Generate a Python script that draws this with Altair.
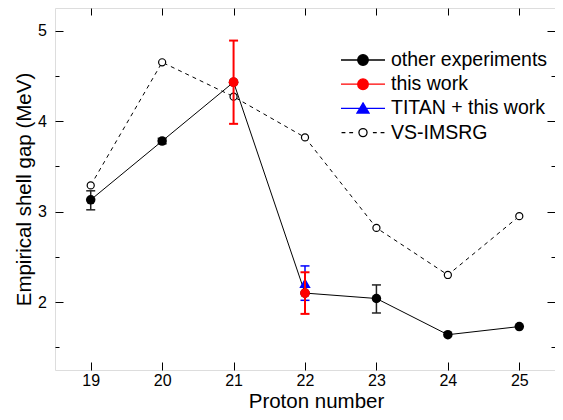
import altair as alt
import pandas as pd

# ---------------- data ----------------
proton = [19, 20, 21, 22, 23, 24, 25]
other_exp = [3.13, 3.78, 4.43, 2.10, 2.04, 1.64, 1.73]
vs_imsrg = [3.29, 4.65, 4.27, 3.82, 2.82, 2.30, 2.95]

other_err_x = [19, 20, 23]
other_err_lo = [3.02, 3.75, 1.88]
other_err_hi = [3.23, 3.81, 2.19]

this_x = [21, 22]
this_y = [4.43, 2.10]
this_lo = [3.97, 1.87]
this_hi = [4.89, 2.33]

titan_x = [22]
titan_y = [2.21]
titan_lo = [2.02]
titan_hi = [2.40]

series_names = ["other experiments", "this work", "TITAN + this work", "VS-IMSRG"]
series_strokes = ["black", "#ff0000", "#0000ff", "black"]
series_fills = ["black", "#ff0000", "#0000ff", "white"]

x_ticks = [19, 20, 21, 22, 23, 24, 25]
y_major = [2, 3, 4, 5]
y_minor = [1.5, 2.5, 3.5, 4.5]

x_title = "Proton number"
y_title = "Empirical shell gap (MeV)"

# ---------------- styles ----------------
FONT = "Liberation Sans"
RED = "#ff0000"
BLUE = "#0000ff"
ERR_BLACK = "#222222"
PLOT_W, PLOT_H = 500, 362

# legend symbols: line + marker drawn as one custom path
legend_paths = [
    "M-2,0H2M-0.48,0A0.48,0.48,0,1,0,0.48,0A0.48,0.48,0,1,0,-0.48,0Z",
    "M-2,0H2M-0.48,0A0.48,0.48,0,1,0,0.48,0A0.48,0.48,0,1,0,-0.48,0Z",
    "M-2,0H2M0,-0.5L0.55,0.42L-0.55,0.42Z",
    "M-1.95,0H-1.6M-1.25,0H-0.9M0.9,0H1.25M1.6,0H1.95"
    "M-0.37,0A0.37,0.37,0,1,0,0.37,0A0.37,0.37,0,1,0,-0.37,0Z",
]

xs = alt.Scale(domain=[18.5, 25.5], nice=False, zero=False)
ys = alt.Scale(domain=[1.25, 5.25], nice=False, zero=False)

common = dict(grid=False, domain=False, tickColor="black", tickWidth=1,
              labelFont=FONT, labelFontSize=16, labelColor="black",
              labelFlush=False, labelOverlap=False,
              titleFont=FONT, titleFontSize=20.5, titleFontWeight="normal",
              titleColor="black")

# axes carrying the labels and titles (no ticks)
x_labels = alt.Axis(orient="bottom", values=x_ticks, format="d", title=x_title,
                    ticks=False, tickSize=0, labelPadding=15, labelBaseline="alphabetic",
                    titleX=261, titleY=37.5, titleBaseline="alphabetic", titleAlign="center",
                    **common)
y_labels = alt.Axis(orient="left", values=y_major, format="d", title=y_title,
                    ticks=False, tickSize=0, labelPadding=8.5,
                    titleAngle=270, titleX=-25, titleY=PLOT_H / 2, titleBaseline="alphabetic",
                    titleAlign="center", **common)


# axes that only draw inward ticks (shifted inside with a negative offset)
def tick_axis(orient, values, size):
    return alt.Axis(orient=orient, values=values, labels=False, title=None,
                    tickSize=size, offset=-size, **common)


x_bottom_ticks = tick_axis("bottom", x_ticks, 8)
x_top_ticks = tick_axis("top", x_ticks, 7)
y_left_major = tick_axis("left", y_major, 8)
y_left_minor = tick_axis("left", y_minor, 4)
y_right_major = tick_axis("right", y_major, 8)
y_right_minor = tick_axis("right", y_minor, 4)

x_axes = [x_labels, x_bottom_ticks, x_top_ticks]
y_axes = [y_labels, y_left_major, y_left_minor, y_right_major, y_right_minor]

# ---------------- tables ----------------
vs_df = pd.DataFrame({"proton": proton, "gap": vs_imsrg})
other_df = pd.DataFrame({"proton": proton, "gap": other_exp})
legend_df = pd.DataFrame({"series": series_names})


def err_df(xv, lo, hi):
    return pd.DataFrame({"proton": xv, "lo": lo, "hi": hi})


def cap_df(xv, lo, hi):
    return pd.DataFrame({"proton": xv * 2, "gap": lo + hi})


def xq(axis=None):
    return alt.X("proton:Q", scale=xs, axis=axis)


def yq(field="gap", axis=None):
    return alt.Y(f"{field}:Q", scale=ys, axis=axis)


layer_specs = []

layer_specs.append(lambda ax, ay: alt.Chart(vs_df).mark_line(
    color="black", strokeWidth=1, strokeDash=[4, 4]).encode(x=xq(ax), y=yq(axis=ay)))
layer_specs.append(lambda ax, ay: alt.Chart(other_df).mark_line(
    color="black", strokeWidth=1).encode(x=xq(ax), y=yq(axis=ay)))
layer_specs.append(lambda ax, ay: alt.Chart(vs_df).mark_point(
    shape="circle", filled=False, fill="white", stroke="black", strokeWidth=1.2,
    size=50, opacity=1).encode(x=xq(ax), y=yq(axis=ay)))


def add_err(xv, lo, hi, color, width):
    layer_specs.append(lambda ax, ay: alt.Chart(err_df(xv, lo, hi)).mark_rule(
        color=color, strokeWidth=width).encode(x=xq(ax), y=yq("lo", ay), y2="hi:Q"))
    layer_specs.append(lambda ax, ay: alt.Chart(cap_df(xv, lo, hi)).mark_tick(
        orient="horizontal", size=9, thickness=width, color=color, opacity=1
    ).encode(x=xq(ax), y=yq(axis=ay)))


add_err(other_err_x, other_err_lo, other_err_hi, ERR_BLACK, 1.5)
layer_specs.append(lambda ax, ay: alt.Chart(other_df).mark_point(
    shape="circle", filled=True, color="black", size=90, opacity=1
).encode(x=xq(ax), y=yq(axis=ay)))
add_err(titan_x, titan_lo, titan_hi, BLUE, 1.5)
layer_specs.append(lambda ax, ay: alt.Chart(pd.DataFrame({"proton": titan_x, "gap": titan_y})).mark_point(
    shape="triangle-up", filled=True, color=BLUE, size=130, opacity=1
).encode(x=xq(ax), y=yq(axis=ay)))
add_err(this_x, this_lo, this_hi, RED, 2)
layer_specs.append(lambda ax, ay: alt.Chart(pd.DataFrame({"proton": this_x, "gap": this_y})).mark_point(
    shape="circle", filled=True, color=RED, size=95, opacity=1
).encode(x=xq(ax), y=yq(axis=ay)))

layers = []
for i, build in enumerate(layer_specs):
    ax = x_axes[i] if i < len(x_axes) else None
    ay = y_axes[i] if i < len(y_axes) else None
    layers.append(build(ax, ay))

leg = alt.Legend(
    orient="none", legendX=296, legendY=40, padding=0, title=None, direction="vertical",
    labelFont=FONT, labelFontSize=19.5, labelColor="black", labelOffset=16, labelLimit=400,
    symbolSize=484, symbolStrokeWidth=1.3, symbolOpacity=1, rowPadding=2.2,
)
legend_layer = alt.Chart(legend_df).mark_point(opacity=0, size=484, strokeWidth=1.3).encode(
    shape=alt.Shape("series:N", scale=alt.Scale(domain=series_names, range=legend_paths), legend=leg),
    fill=alt.Fill("series:N", scale=alt.Scale(domain=series_names, range=series_fills), legend=leg),
    stroke=alt.Stroke("series:N", scale=alt.Scale(domain=series_names, range=series_strokes), legend=leg),
)
layers.append(legend_layer)

chart = (
    alt.layer(*layers)
    .resolve_axis(x="independent", y="independent")
    .properties(
        width=PLOT_W, height=PLOT_H,
        autosize=alt.AutoSizeParams(type="none"),
        padding={"left": 47, "top": 0, "right": 0, "bottom": 42},
        background="white",
    )
    .configure_view(stroke="black", strokeWidth=1)
    .configure(font=FONT)
)

chart.save("out.html", embed_options={"renderer": "svg", "actions": False})
